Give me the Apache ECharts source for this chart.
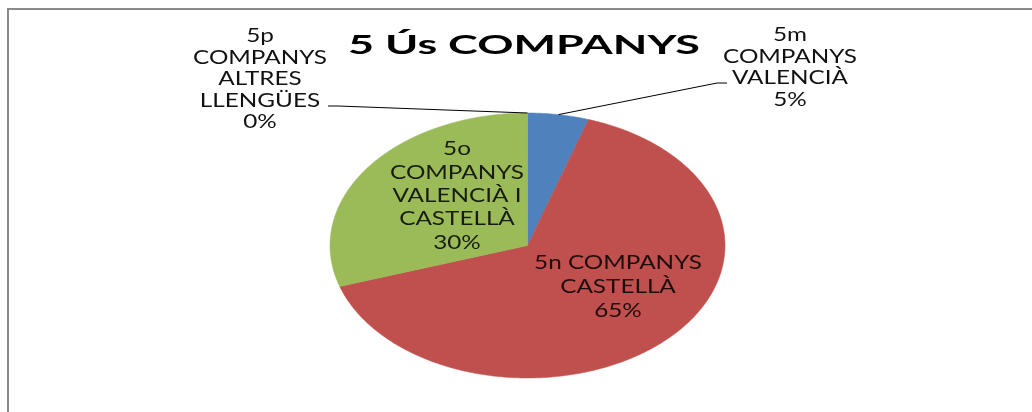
<!DOCTYPE html>
<html>
<head>
<meta charset="utf-8">
<script src="https://cdn.jsdelivr.net/npm/echarts@6/dist/echarts.min.js"></script>
<style>
  html, body { margin: 0; padding: 0; background: #fff; }
  #chart { width: 1032px; height: 412px; }
</style>
</head>
<body>
<div id="chart"></div>
<script>
// ---- data ----
const title = '5 Ús COMPANYS';
const categories = [
  '5m\nCOMPANYS\nVALENCIÀ',
  '5n COMPANYS\nCASTELLÀ',
  '5o\nCOMPANYS\nVALENCIÀ I\nCASTELLÀ',
  '5p\nCOMPANYS\nALTRES\nLLENGÜES'
];
const values = [5, 65, 30, 0];

// ---- styles / layout ----
const colors = ['#4F81BD', '#C0504D', '#9BBB59', '#8064A2'];
const FONT = 'Lato';
const pie = { cx: 527.5, cy: 245.5, rx: 197.5, ry: 132.5 };
const labelLayout = [
  { x: 790, y: 67.5, lh: 21.5, fill: '#111', line: [[717, 83], [727, 83]] },
  { x: 618, y: 286.7, lh: 24, fill: 'rgba(0,0,0,0.85)' },
  { x: 457, y: 195.8, lh: 23.4, fill: 'rgba(0,0,0,0.85)' },
  { x: 260, y: 79, lh: 21.5, fill: '#111', line: [[338, 106], [328, 106]] }
];

function textWidth(str, font) {
  const c = document.createElement('canvas').getContext('2d');
  c.font = font;
  return c.measureText(str).width;
}
const labelScale = 134 / textWidth('COMPANYS', '19px ' + FONT);
const titleScale = 352 / textWidth(title, 'bold 27px ' + FONT);

const total = values.reduce((a, b) => a + b, 0);
const starts = [];
values.reduce((acc, v, i) => { starts[i] = acc; return acc + v; }, 0);

function ellPoint(a) {
  return [pie.cx + pie.rx * Math.sin(a), pie.cy - pie.ry * Math.cos(a)];
}

const chart = echarts.init(document.getElementById('chart'));
chart.setOption({
  backgroundColor: '#fff',
  animation: false,
  graphic: [
    {
      type: 'rect',
      shape: { x: 8, y: 9, width: 1200, height: 600 },
      style: { fill: 'none', stroke: '#8a8a8a', lineWidth: 2 }
    },
    {
      type: 'text',
      x: 524, y: 45.5,
      scaleX: titleScale,
      style: {
        text: title, fontFamily: FONT, fontWeight: 'bold', fontSize: 27,
        fill: '#000', align: 'center', verticalAlign: 'middle',
        textAlign: 'center', textVerticalAlign: 'middle'
      }
    }
  ],
  series: [{
    type: 'custom',
    coordinateSystem: 'none',
    data: values.map((v, i) => ({ name: categories[i], value: v })),
    renderItem: function (params, api) {
      const i = params.dataIndex;
      const v = api.value(0);
      const a0 = starts[i] / total * Math.PI * 2;
      const a1 = (starts[i] + v) / total * Math.PI * 2;
      const children = [];
      if (v > 0) {
        const pts = [[pie.cx, pie.cy]];
        const n = Math.max(2, Math.ceil((a1 - a0) / (Math.PI / 360)));
        for (let k = 0; k <= n; k++) pts.push(ellPoint(a0 + (a1 - a0) * k / n));
        children.push({
          type: 'polygon', shape: { points: pts },
          style: { fill: colors[i], stroke: colors[i], lineWidth: 0.5 }
        });
      }
      const L = labelLayout[i];
      if (L.line) {
        const anchor = ellPoint((a0 + a1) / 2);
        children.push({
          type: 'polyline', z2: 20,
          shape: { points: [anchor].concat(L.line) },
          style: { stroke: '#000', lineWidth: 1, fill: null }
        });
      }
      const pct = Math.round(v / total * 100) + '%';
      children.push({
        type: 'text', z2: 30,
        x: L.x, y: L.y, scaleX: labelScale,
        style: {
          text: categories[i] + '\n' + pct,
          fontFamily: FONT, fontSize: 19, lineHeight: L.lh,
          fill: L.fill, align: 'center', verticalAlign: 'middle',
          textAlign: 'center', textVerticalAlign: 'middle'
        }
      });
      return { type: 'group', children: children };
    }
  }]
});
</script>
</body>
</html>
